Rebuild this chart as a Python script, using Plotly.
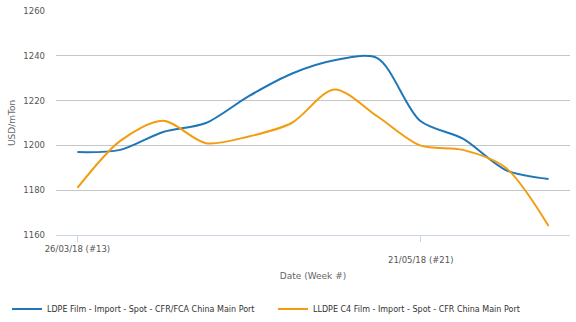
import plotly.graph_objects as go

# Weekly price assessments, 26 Mar 2018 (week 13) to 11 Jun 2018 (week 24)
dates = ["2018-03-26", "2018-04-02", "2018-04-09", "2018-04-16", "2018-04-23", "2018-04-30",
         "2018-05-07", "2018-05-14", "2018-05-21", "2018-05-28", "2018-06-04", "2018-06-11"]
ldpe_film = [1197, 1198, 1206, 1210, 1222, 1232, 1238, 1239, 1211, 1203, 1189, 1185]
lldpe_c4_film = [1181, 1202, 1211, 1201, 1204, 1210, 1225, 1213, 1200, 1198, 1190, 1164]

# Labelled x ticks; the second label sits on a lower (staggered) row
tick_dates = ["2018-03-26", "2018-05-21"]
tick_labels = ["26/03/18 (#13)", "21/05/18 (#21)"]

series_names = ["LDPE Film - Import - Spot - CFR/FCA China Main Port",
                "LLDPE C4 Film - Import - Spot - CFR China Main Port"]
colors = ["#1f77b8", "#f29d0f"]
legend_ids = ["legend", "legend2"]

font_family = "DejaVu Sans"
label_color = "#555555"

fig = go.Figure()
for name, vals, col, lg in zip(series_names, [ldpe_film, lldpe_c4_film], colors, legend_ids):
    fig.add_trace(go.Scatter(
        x=dates, y=vals, name=name, mode="lines", legend=lg,
        line=dict(color=col, width=2, shape="spline", smoothing=0.85),
    ))

# First row of tick labels on the axis itself, second row as an annotation
fig.add_annotation(
    x=tick_dates[1], y=0, xref="x", yref="paper",
    text=tick_labels[1], showarrow=False,
    yanchor="middle", yshift=-25,
    font=dict(family=font_family, size=8.5, color=label_color),
)

legend_style = dict(
    orientation="h", xref="container", yref="container",
    xanchor="left", y=0.04, yanchor="middle",
    font=dict(family=font_family, size=8, color="#333333"),
    bgcolor="rgba(0,0,0,0)",
)

fig.update_layout(
    width=576, height=322,
    margin=dict(l=56, r=6, t=9, b=87),
    paper_bgcolor="white", plot_bgcolor="white",
    font=dict(family=font_family, size=8.5, color="#666666"),
    showlegend=True,
    legend=dict(x=7 / 576, **legend_style),
    legend2=dict(x=273 / 576, **legend_style),
    xaxis=dict(
        type="date",
        range=["2018-03-22 12:00", "2018-06-14 12:00"],
        tickvals=tick_dates, ticktext=[tick_labels[0], ""],
        ticks="outside", ticklen=6, tickcolor="#ccd6eb", tickwidth=1,
        showline=True, linecolor="#ccd6eb", linewidth=1,
        showgrid=False, zeroline=False,
        tickfont=dict(size=8.5, color=label_color),
        title=dict(text="Date (Week #)", font=dict(size=9, color="#666666"), standoff=19),
    ),
    yaxis=dict(
        range=[1160, 1260], dtick=20,
        showgrid=True, gridcolor="#c6c6c6", gridwidth=1,
        zeroline=False, showline=False, ticks="",
        ticklabelstandoff=10,
        tickfont=dict(size=8.5, color=label_color),
        title=dict(text="USD/mTon", font=dict(size=9, color="#666666"), standoff=6),
    ),
)

fig.write_html("out.html")
